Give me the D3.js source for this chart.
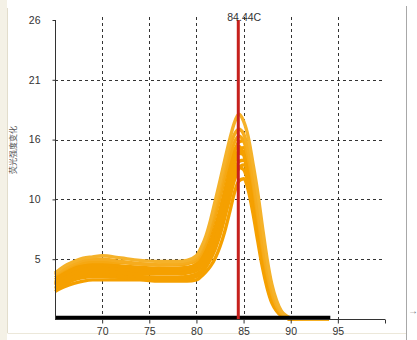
<!DOCTYPE html>
<html><head><meta charset="utf-8">
<script src="https://cdn.jsdelivr.net/npm/d3@7"></script>
<style>html,body{margin:0;padding:0;background:#fff;}svg{display:block;}</style>
</head><body>
<svg id="c" width="417" height="340"></svg>
<script>
const temps = [65,66,67,68,69,70,72,74,76,78,79,80,80.5,81,81.5,82,82.5,83,83.5,84,84.5,85,85.5,86,86.5,87,87.5,88,88.5,89,89.5,90,91,92,93,94];
const curveA = [4.0,4.6,5.0,5.3,5.4,5.5,5.3,5.1,5.0,5.0,5.1,5.5,6.2,7.2,8.6,10.3,12.0,13.8,15.5,17.0,17.8,17.2,15.8,13.5,11.0,8.0,5.2,3.0,1.6,0.7,0.3,0.1,0.03,0,0,0];
const curveB = [3.8,4.3,4.7,4.9,5.0,5.0,4.9,4.8,4.7,4.7,4.8,5.1,5.7,6.6,7.8,9.2,10.8,12.5,14.0,15.3,15.9,15.5,14.0,11.8,9.0,6.2,3.9,2.2,1.1,0.5,0.2,0.05,0,0,0,0];
const curveC = [3.4,3.9,4.3,4.6,4.7,4.7,4.6,4.5,4.4,4.4,4.5,4.7,5.1,5.7,6.6,7.8,9.3,11.0,12.8,14.4,15.4,15.5,14.6,12.6,9.9,7.0,4.5,2.6,1.3,0.6,0.2,0.05,0,0,0,0];
const curveD = [3.0,3.5,3.9,4.2,4.3,4.3,4.2,4.1,4.0,4.0,4.1,4.3,4.7,5.3,6.2,7.4,8.8,10.4,12.0,13.5,14.4,14.3,13.1,10.9,8.2,5.6,3.4,1.9,0.9,0.4,0.15,0,0,0,0,0];
const curveE = [2.7,3.1,3.5,3.8,3.9,3.9,3.8,3.7,3.6,3.6,3.7,3.9,4.2,4.8,5.6,6.7,8.0,9.6,11.2,12.7,13.7,13.8,12.8,10.8,8.2,5.6,3.5,1.9,0.9,0.4,0.15,0,0,0,0,0];
const curveF = [2.4,2.8,3.1,3.3,3.4,3.4,3.4,3.4,3.3,3.3,3.3,3.4,3.7,4.1,4.6,5.3,6.3,7.6,9.2,10.9,12.0,12.2,11.2,9.2,6.8,4.5,2.7,1.4,0.7,0.3,0.1,0,0,0,0,0];
const curveG = [3.6,4.1,4.5,4.7,4.8,4.8,4.6,4.4,4.3,4.3,4.4,4.8,5.4,6.3,7.5,9.0,10.6,12.2,13.6,14.7,15.0,14.3,12.6,10.2,7.5,5.0,3.0,1.6,0.8,0.3,0.1,0,0,0,0,0];
const curveH = [2.9,3.3,3.7,4.0,4.1,4.1,4.0,3.9,3.9,3.9,4.0,4.2,4.6,5.1,5.9,7.0,8.4,10.0,11.8,13.5,14.6,14.9,14.0,11.9,9.1,6.3,3.9,2.2,1.1,0.5,0.2,0.05,0,0,0,0];
const curveI = [3.2,3.7,4.1,4.4,4.5,4.5,4.4,4.2,4.1,4.1,4.2,4.4,4.8,5.4,6.2,7.3,8.6,10.0,11.4,12.6,13.2,13.0,11.8,9.8,7.4,5.0,3.0,1.6,0.8,0.3,0.1,0,0,0,0,0];
const curveJ = [3.9,4.4,4.8,5.1,5.2,5.2,5.0,4.8,4.7,4.8,4.9,5.3,6.0,7.0,8.3,9.8,11.5,13.2,14.8,16.0,16.5,16.1,14.7,12.4,9.6,6.7,4.3,2.4,1.2,0.5,0.2,0.05,0,0,0,0];
const curveK = [3.1,3.6,4.0,4.3,4.4,4.4,4.3,4.2,4.1,4.1,4.2,4.5,5.0,5.7,6.7,8.0,9.5,11.1,12.6,13.9,14.6,14.6,13.6,11.6,8.9,6.1,3.8,2.1,1.0,0.4,0.15,0,0,0,0,0];
const curveL = [2.6,3.0,3.4,3.6,3.7,3.7,3.6,3.5,3.5,3.5,3.5,3.7,4.0,4.5,5.2,6.1,7.3,8.8,10.4,12.0,13.1,13.4,12.6,10.7,8.2,5.6,3.5,1.9,0.9,0.4,0.15,0,0,0,0,0];
const baselineTemps = [65, 94.2];
const baselineValues = [0.1, 0.1];
const meltTemp = 84.44;
const xTicks = [70,75,80,85,90,95,100];
const xTickLabels = ["70","75","80","85","90","95",""];
const yTicks = [5.2,10.4,15.6,20.8,26];
const yTickLabels = ["5","10","16","21","26"];
const yTitle = "荧光强度变化";

const svg = d3.select("#c");
const x = d3.scaleLinear().domain([65,100]).range([55,385]);
const y = d3.scaleLinear().domain([0,26]).range([319,20]);

// frame
svg.append("rect").attr("x",0).attr("y",0).attr("width",7).attr("height",340).attr("fill","#f4f1e6");
svg.append("line").attr("x1",7.5).attr("x2",7.5).attr("y1",8).attr("y2",333).attr("stroke","#e2ddcc");
svg.append("line").attr("x1",7.5).attr("x2",406).attr("y1",333.5).attr("y2",333.5).attr("stroke","#ece8da");
svg.append("line").attr("x1",406.5).attr("x2",406.5).attr("y1",6).attr("y2",340).attr("stroke","#a8a8a8");
svg.append("text").attr("x",408).attr("y",314).attr("font-family","Liberation Sans, Arial").attr("font-size",10).attr("fill","#777").text("→");

// grid
const grid = svg.append("g").attr("stroke","#333").attr("stroke-width",1).attr("stroke-dasharray","3,3");
grid.selectAll("line.v").data(xTicks.filter(t=>t<100)).join("line")
  .attr("x1",d=>Math.round(x(d))+0.5).attr("x2",d=>Math.round(x(d))+0.5)
  .attr("y1",17).attr("y2",319);
grid.selectAll("line.h").data(yTicks.filter(t=>t<26)).join("line")
  .attr("x1",55).attr("x2",385)
  .attr("y1",d=>Math.round(y(d))+0.5).attr("y2",d=>Math.round(y(d))+0.5);

// curves
const series = [
  {v:curveF,c:"#f5a000"},{v:curveL,c:"#f5a000"},{v:curveE,c:"#f5a000"},{v:curveI,c:"#f5a000"},{v:curveD,c:"#f5a000"},
  {v:curveK,c:"#f5a000"},{v:curveH,c:"#f5a000"},{v:curveG,c:"#f5a000"},{v:curveC,c:"#f5a000"},{v:curveB,c:"#f6a812"},
  {v:curveJ,c:"#f6ac1e"},{v:curveA,c:"#f5b22a"}
];
const line = d3.line().x(d=>x(d[0])).y(d=>y(d[1])).curve(d3.curveMonotoneX);
svg.append("g").selectAll("path").data(series).join("path")
  .attr("d",s=>line(temps.map((t,i)=>[t,s.v[i]])))
  .attr("fill","none").attr("stroke",s=>s.c).attr("stroke-width",3.4).attr("stroke-linejoin","round");

// black baseline series
svg.append("path").attr("d",line(baselineTemps.map((t,i)=>[t,baselineValues[i]])))
  .attr("fill","none").attr("stroke","#000").attr("stroke-width",4);

// melt line
svg.append("line").attr("x1",x(meltTemp)).attr("x2",x(meltTemp)).attr("y1",20).attr("y2",319)
  .attr("stroke","#c6201c").attr("stroke-width",3);
svg.append("text").attr("x",x(meltTemp)-11).attr("y",21).attr("font-family","Liberation Sans, Arial")
  .attr("font-size",10.5).attr("fill","#333").text(meltTemp.toFixed(2)+"C");

// axes
const yAxis = d3.axisLeft(y).tickValues(yTicks).tickSize(3).tickFormat((d,i)=>yTickLabels[i]);
const ga = svg.append("g").attr("transform","translate(55.5,0)").call(yAxis);
ga.select(".domain").attr("d","M0,20V319").attr("stroke","#333");
ga.selectAll(".tick line").attr("stroke","#333");
ga.selectAll(".tick text").attr("x",-15).attr("font-family","Liberation Sans, Arial").attr("font-size",10.5).attr("fill","#333");

const xAxis = d3.axisBottom(x).tickValues(xTicks).tickSize(4).tickFormat((d,i)=>xTickLabels[i]);
const gx = svg.append("g").attr("transform","translate(0,319.5)").call(xAxis);
gx.select(".domain").attr("d","M55,0H385").attr("stroke","#333");
gx.selectAll(".tick line").attr("stroke","#333");
gx.selectAll(".tick text").attr("y",8).attr("font-family","Liberation Sans, Arial").attr("font-size",10.5).attr("fill","#333");

svg.append("text").attr("transform","translate(16,150) rotate(-90)").attr("text-anchor","middle")
  .attr("font-family","Noto Sans CJK SC").attr("font-size",8).attr("fill","#555").text(yTitle);
</script>
</body></html>
